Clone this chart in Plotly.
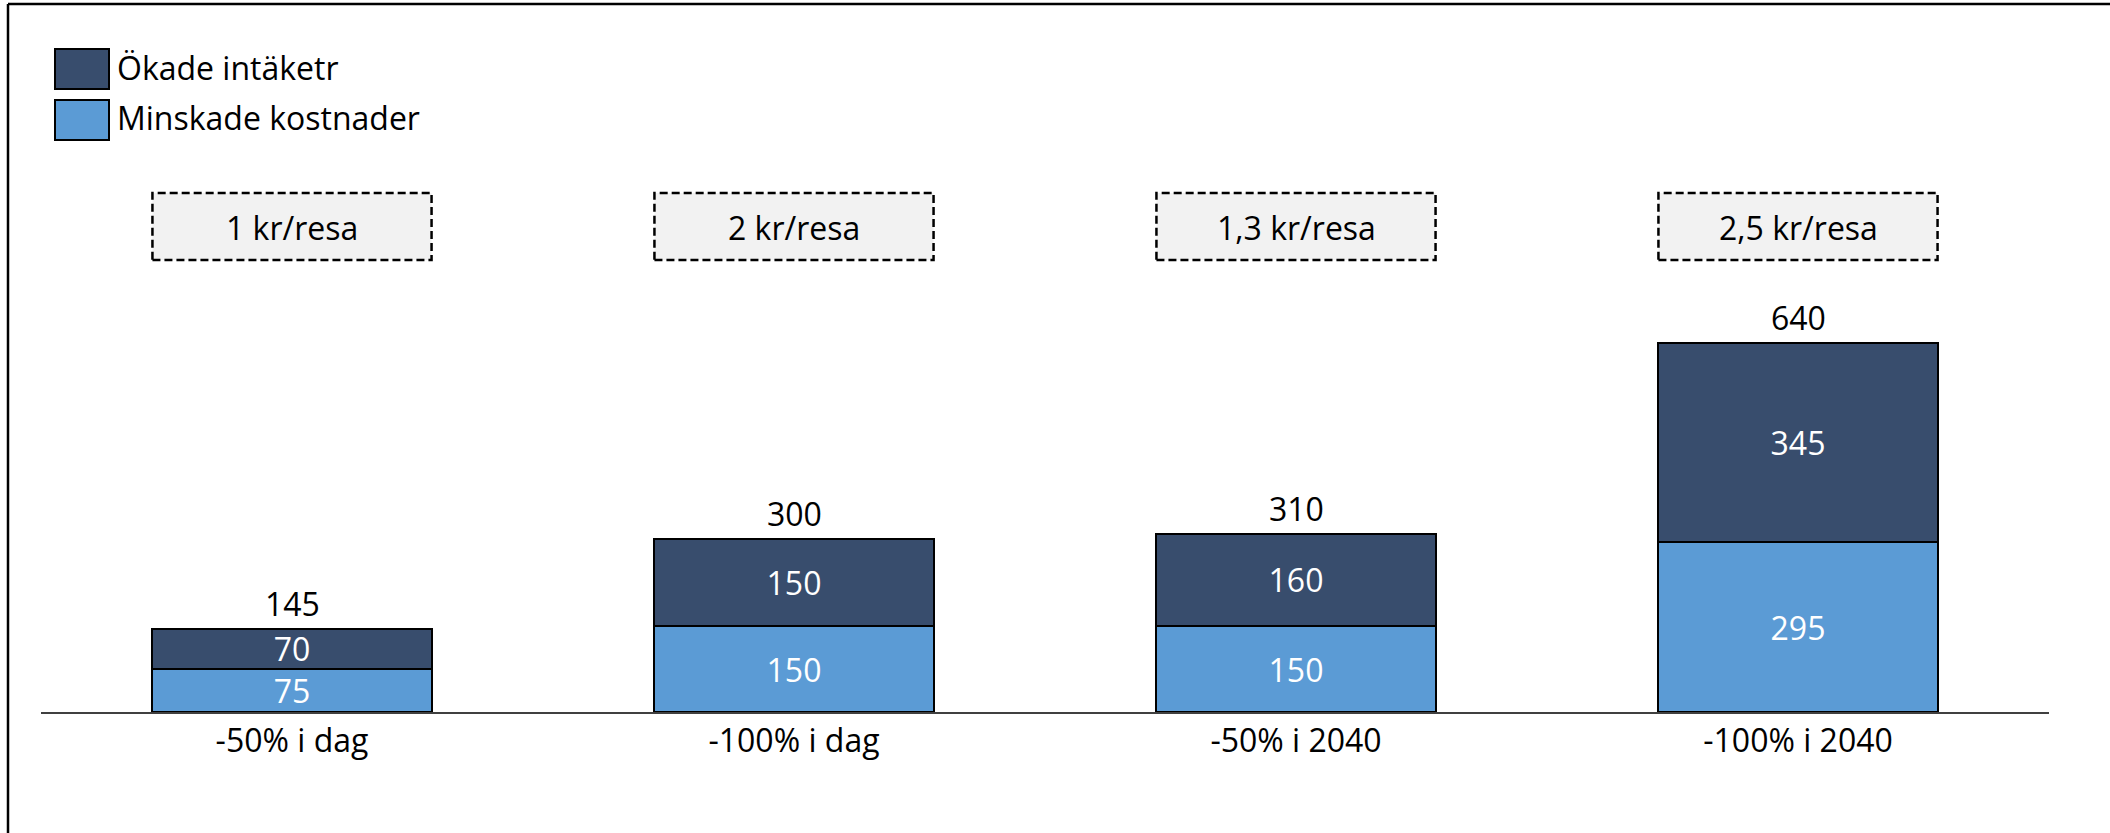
import plotly.graph_objects as go

# Scenario categories and stacked components (MSEK)
categories = ["-50% i dag", "-100% i dag", "-50% i 2040", "-100% i 2040"]
minskade_kostnader = [75, 150, 150, 295]
okade_intakter = [70, 150, 160, 345]
price_labels = ["1 kr/resa", "2 kr/resa", "1,3 kr/resa", "2,5 kr/resa"]
series_names = ["Ökade intäketr", "Minskade kostnader"]

totals = [a + b for a, b in zip(minskade_kostnader, okade_intakter)]

W, H = 2110, 833
FONT = "Open Sans"
FS = 32
DARK = "#384D6D"
LIGHT = "#5B9BD5"
BAR_W = 0.556

# pixel -> paper helpers (margins are zero, so paper == full page)
def px(x):
    return x / W

def py(y):
    return 1 - y / H

fig = go.Figure()

fig.add_trace(go.Bar(
    x=categories, y=minskade_kostnader, name=series_names[1],
    marker=dict(color=LIGHT, line=dict(color="#000000", width=2)),
    width=BAR_W, text=minskade_kostnader, texttemplate="%{text}",
    textposition="inside", insidetextanchor="middle", textangle=0,
    textfont=dict(family=FONT, size=FS, color="#FFFFFF"),
    constraintext="none", cliponaxis=False, hoverinfo="skip",
))
fig.add_trace(go.Bar(
    x=categories, y=okade_intakter, name=series_names[0],
    marker=dict(color=DARK, line=dict(color="#000000", width=2)),
    width=BAR_W, text=okade_intakter, texttemplate="%{text}",
    textposition="inside", insidetextanchor="middle", textangle=0,
    textfont=dict(family=FONT, size=FS, color="#FFFFFF"),
    constraintext="none", cliponaxis=False, hoverinfo="skip",
))

shapes = []
annotations = []

# totals above each stack
for cat, tot in zip(categories, totals):
    annotations.append(dict(
        x=cat, y=tot, xref="x", yref="y", text=str(tot), showarrow=False,
        yanchor="bottom", yshift=2, font=dict(family=FONT, size=FS, color="#000000"),
    ))

# dashed price boxes above each scenario
box_top, box_bot = py(193), py(260)
for i, lab in enumerate(price_labels):
    shapes.append(dict(
        type="rect", xref="x", yref="paper",
        x0=i - BAR_W / 2, x1=i + BAR_W / 2, y0=box_bot, y1=box_top,
        fillcolor="#F2F2F2", line=dict(color="#000000", width=2.5, dash="8px,4px"),
        layer="below",
    ))
    annotations.append(dict(
        x=i, y=(box_top + box_bot) / 2, xref="x", yref="paper", text=lab,
        showarrow=False, yanchor="middle", yshift=-1,
        font=dict(family=FONT, size=FS, color="#000000"),
    ))

# legend drawn as swatches + labels
legend_rows = [(series_names[0], DARK, 49, 89), (series_names[1], LIGHT, 100, 140)]
for name, col, y0, y1 in legend_rows:
    shapes.append(dict(
        type="rect", xref="paper", yref="paper",
        x0=px(55), x1=px(109), y0=py(y1), y1=py(y0),
        fillcolor=col, line=dict(color="#000000", width=2),
    ))
    annotations.append(dict(
        x=px(115), y=py((y0 + y1) / 2), xref="paper", yref="paper", text=name,
        showarrow=False, xanchor="left", yanchor="middle", yshift=2,
        font=dict(family=FONT, size=FS, color="#000000"),
    ))

# outer frame (top and left edges)
shapes.append(dict(type="line", xref="paper", yref="paper",
                   x0=px(8), x1=1.0, y0=py(4), y1=py(4),
                   line=dict(color="#000000", width=2.5)))
shapes.append(dict(type="line", xref="paper", yref="paper",
                   x0=px(8), x1=px(8), y0=0.0, y1=py(4),
                   line=dict(color="#000000", width=2.5)))

zero_y = 712.3
fig.update_layout(
    width=W, height=H,
    margin=dict(l=0, r=0, t=0, b=0),
    paper_bgcolor="#FFFFFF", plot_bgcolor="#FFFFFF",
    barmode="stack", showlegend=False,
    uniformtext=dict(minsize=FS, mode="show"),
    font=dict(family=FONT, size=FS, color="#000000"),
    xaxis=dict(
        domain=[px(41), px(2049)], range=[-0.5, 3.5],
        showline=True, linecolor="#404040", linewidth=1.5,
        showgrid=False, zeroline=False, ticks="",
        tickfont=dict(family=FONT, size=FS, color="#000000"),
        fixedrange=True,
    ),
    yaxis=dict(
        domain=[py(zero_y), 1.0], range=[0, zero_y / 0.5766],
        visible=False, showgrid=False, zeroline=False, fixedrange=True,
    ),
    shapes=shapes,
    annotations=annotations,
)

fig.write_html("out.html")
